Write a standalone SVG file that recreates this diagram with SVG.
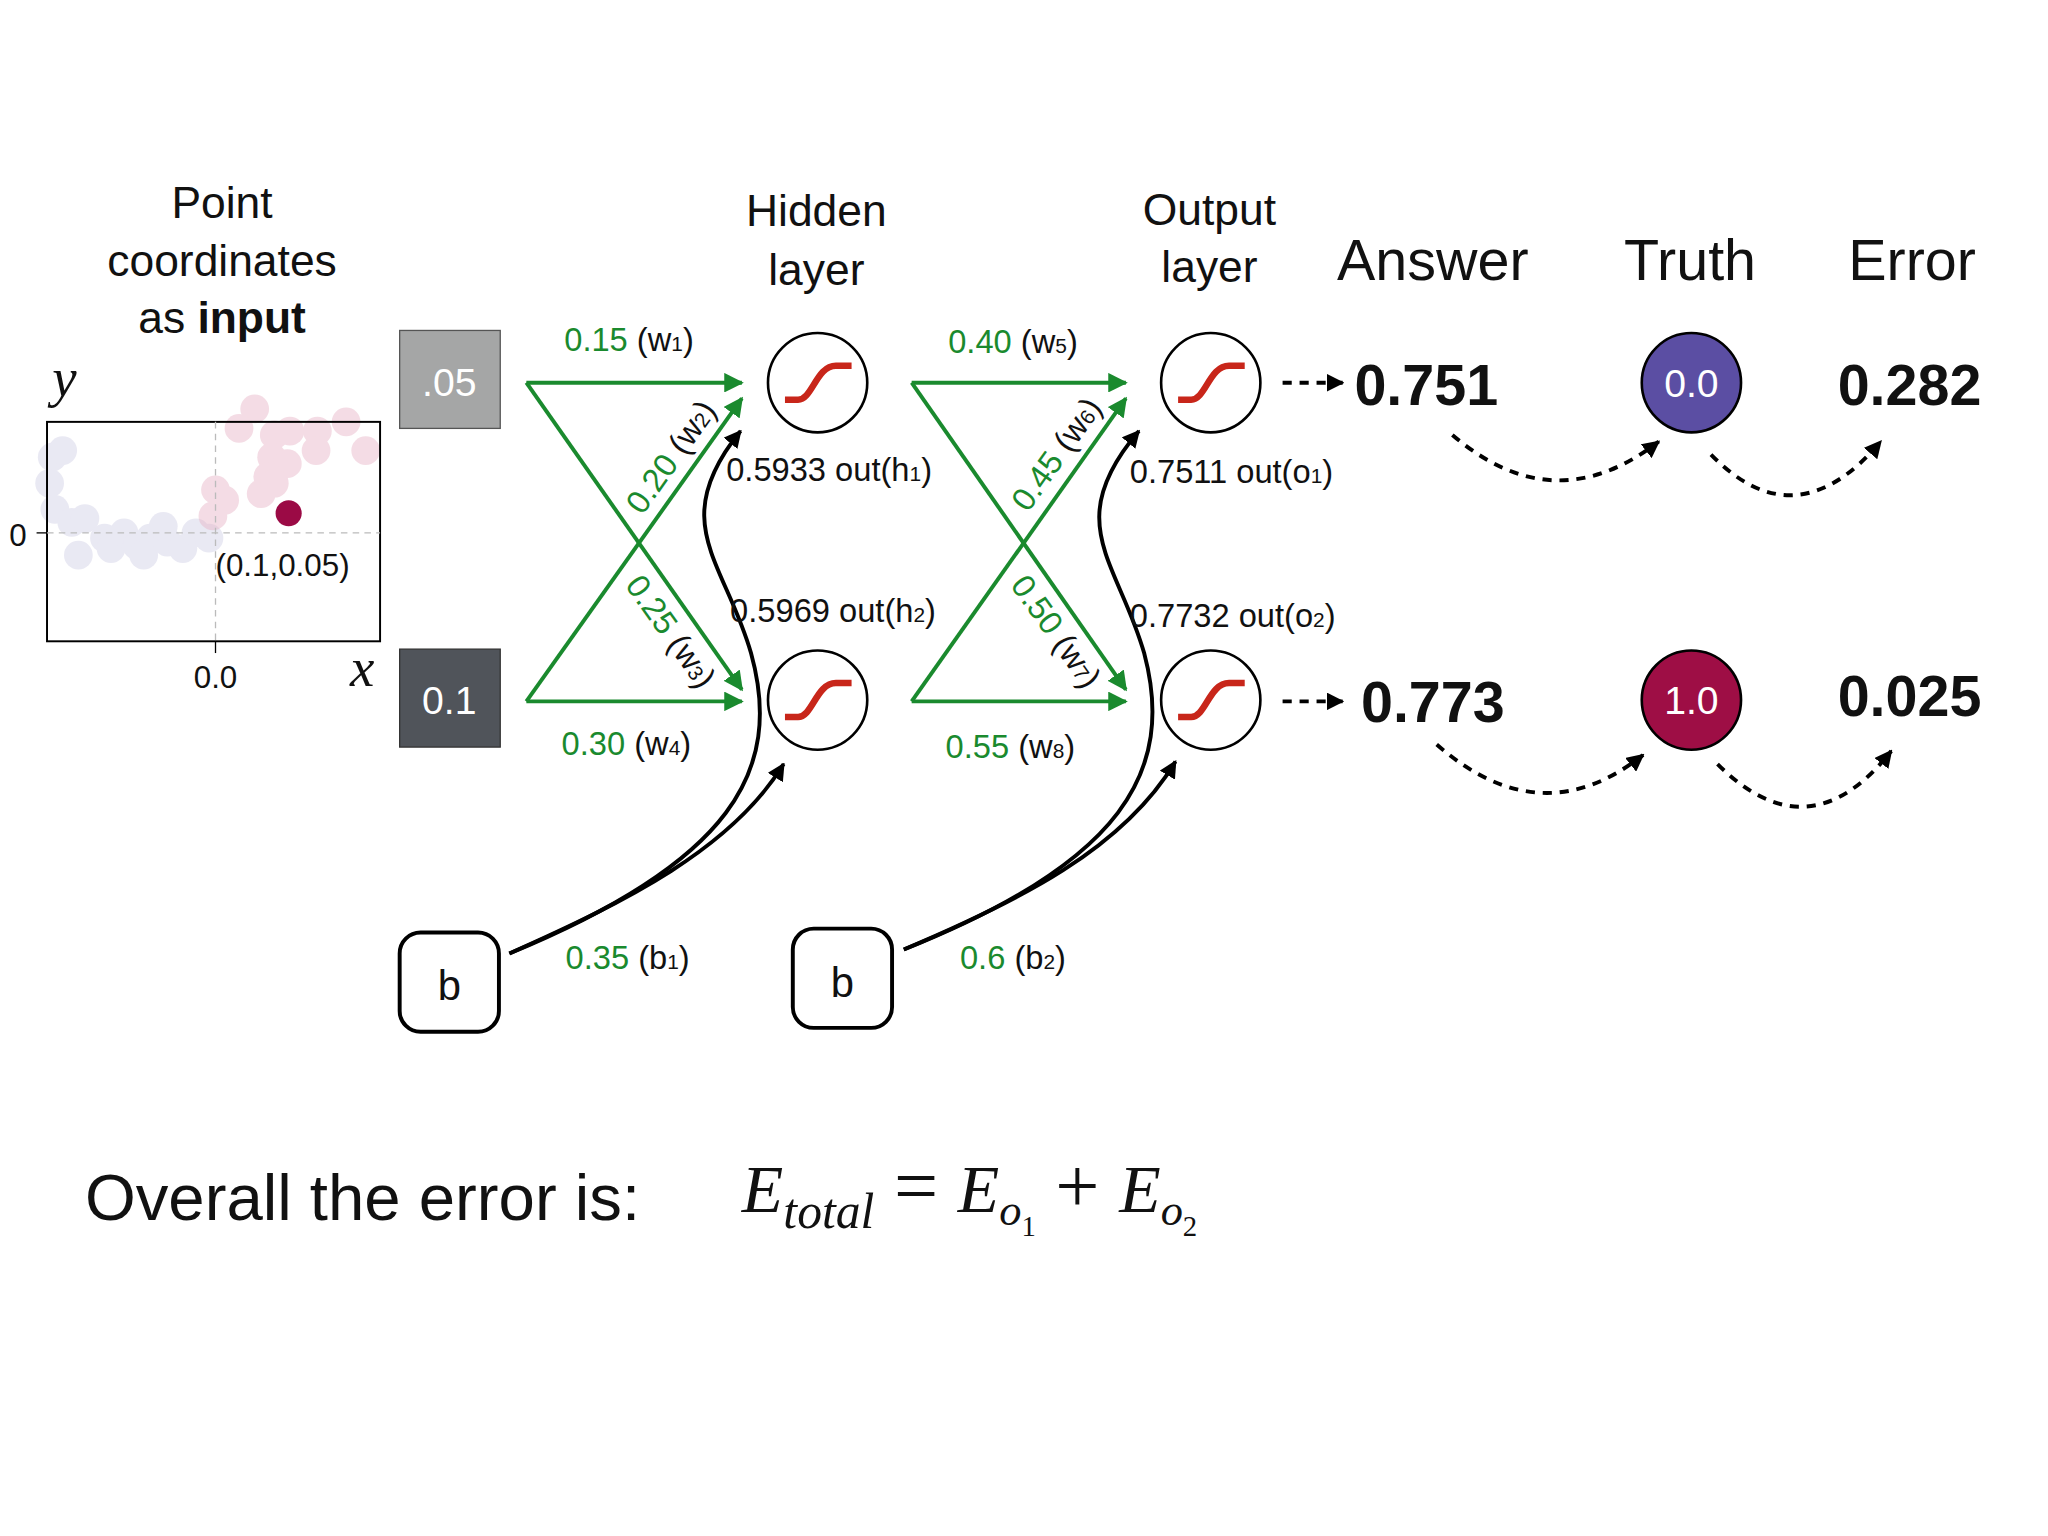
<svg xmlns="http://www.w3.org/2000/svg" width="2048" height="1536" viewBox="0 0 2048 1536">
<defs>
<style>
text{font-family:"Liberation Sans",Arial,sans-serif;fill:#111}
.g{fill:#1a8a2e}
.t24{font-size:25px}
.hd{font-size:34px;text-anchor:middle}
.hb{font-size:44px;text-anchor:middle}
.big{font-size:44px;font-weight:bold}
.gl{stroke:#1a8a2e;stroke-width:3;fill:none;marker-end:url(#ga)}
.bl{stroke:#000;stroke-width:3;fill:none;marker-end:url(#ba)}
.dl{stroke:#000;stroke-width:3;fill:none;stroke-dasharray:7 6;marker-end:url(#ba)}
.neu{fill:#fff;stroke:#000;stroke-width:2}
.sig{fill:none;stroke:#c8261a;stroke-width:5}
.ser{font-family:"Liberation Serif","Times New Roman",serif;font-style:italic}
.pb{fill:#d0cfe6;opacity:0.45}
.pr{fill:#e8b3c6;opacity:0.45}
</style>
<marker id="ga" viewBox="0 0 10 10" refX="9" refY="5" markerWidth="5" markerHeight="5" orient="auto"><path d="M0,0L10,5L0,10z" fill="#1a8a2e"/></marker>
<marker id="ba" viewBox="0 0 10 10" refX="9" refY="5" markerWidth="4.5" markerHeight="4.5" orient="auto"><path d="M0,0L10,5L0,10z" fill="#000"/></marker>
</defs>
<rect width="2048" height="1536" fill="#fff"/>
<g transform="scale(1.3061)">
<g id="title">
<text class="hd" x="170" y="167">Point</text>
<text class="hd" x="170" y="211">coordinates</text>
<text class="hd" x="170" y="255">as <tspan font-weight="bold">input</tspan></text>
<text class="hd" x="625" y="173">Hidden</text>
<text class="hd" x="625" y="218">layer</text>
<text class="hd" x="926" y="172">Output</text>
<text class="hd" x="926" y="216">layer</text>
<text class="hb" x="1097" y="214">Answer</text>
<text class="hb" x="1294" y="214">Truth</text>
<text class="hb" x="1464" y="214">Error</text>
</g>
<g id="plot">
<g class="pb">
<circle cx="40" cy="350" r="11"/><circle cx="48" cy="345" r="11"/><circle cx="38" cy="370" r="11"/><circle cx="42" cy="390" r="11"/><circle cx="55" cy="400" r="11"/><circle cx="65" cy="397" r="11"/><circle cx="80" cy="412" r="11"/><circle cx="60" cy="425" r="11"/><circle cx="85" cy="420" r="11"/><circle cx="95" cy="408" r="11"/><circle cx="105" cy="418" r="11"/><circle cx="115" cy="412" r="11"/><circle cx="110" cy="425" r="11"/><circle cx="128" cy="415" r="11"/><circle cx="140" cy="420" r="11"/><circle cx="150" cy="408" r="11"/><circle cx="160" cy="412" r="11"/><circle cx="125" cy="403" r="11"/>
</g>
<g class="pr">
<circle cx="165" cy="375" r="11"/><circle cx="172" cy="383" r="11"/><circle cx="163" cy="395" r="11"/><circle cx="195" cy="313" r="11"/><circle cx="183" cy="328" r="11"/><circle cx="210" cy="333" r="11"/><circle cx="222" cy="330" r="11"/><circle cx="243" cy="330" r="11"/><circle cx="265" cy="323" r="11"/><circle cx="280" cy="345" r="11"/><circle cx="208" cy="350" r="11"/><circle cx="220" cy="355" r="11"/><circle cx="242" cy="345" r="11"/><circle cx="205" cy="365" r="11"/><circle cx="200" cy="378" r="11"/><circle cx="210" cy="370" r="11"/>
</g>
<rect x="36" y="323" width="255" height="168" fill="none" stroke="#000" stroke-width="1.5"/>
<line x1="36" y1="408" x2="291" y2="408" stroke="#bbb" stroke-dasharray="5 4"/>
<line x1="165" y1="323" x2="165" y2="491" stroke="#bbb" stroke-dasharray="5 4"/>
<line x1="28" y1="408" x2="36" y2="408" stroke="#000"/>
<line x1="165" y1="491" x2="165" y2="500" stroke="#000"/>
<text x="7" y="418" font-size="24">0</text>
<text x="165" y="527" font-size="24" text-anchor="middle">0.0</text>
<text class="ser" x="40" y="303" font-size="42">y</text>
<text class="ser" x="268" y="525" font-size="42">x</text>
<circle cx="221" cy="393" r="10" fill="#9b0a45"/>
<text x="165" y="441" font-size="24">(0.1,0.05)</text>
</g>
<g id="in1"><rect x="306" y="253" width="77" height="75" fill="#a5a6a6" stroke="#555"/><text x="344" y="303" font-size="30" style="fill:#fff" text-anchor="middle">.05</text></g>
<g id="in2"><rect x="306" y="497" width="77" height="75" fill="#50545a" stroke="#333"/><text x="344" y="547" font-size="30" style="fill:#fff" text-anchor="middle">0.1</text></g>
<g id="b1"><rect x="306" y="714" width="76" height="76" rx="16" fill="#fff" stroke="#000" stroke-width="3"/><text x="344" y="766" font-size="32" text-anchor="middle">b</text></g>
<g id="b2"><rect x="607" y="711" width="76" height="76" rx="16" fill="#fff" stroke="#000" stroke-width="3"/><text x="645" y="763" font-size="32" text-anchor="middle">b</text></g>
<g id="connectors">
<path class="gl" d="M403,293H568"/>
<path class="gl" d="M403,293L568,528"/>
<path class="gl" d="M403,537L568,305"/>
<path class="gl" d="M403,537H568"/>
<path class="gl" d="M698,293H862"/>
<path class="gl" d="M698,293L862,528"/>
<path class="gl" d="M698,537L862,305"/>
<path class="gl" d="M698,537H862"/>
<path class="bl" d="M390,730C560,660 600,590 575,500C555,430 510,400 567,330"/>
<path class="bl" d="M390,730C480,690 560,650 600,585"/>
<path class="bl" d="M692,727C860,660 900,590 876,500C856,430 812,400 872,330"/>
<path class="bl" d="M692,727C780,690 860,650 900,583"/>
<path class="dl" d="M982,293H1028"/>
<path class="dl" d="M982,537H1028"/>
<path class="dl" d="M1112,333Q1190,400 1270,338"/>
<path class="dl" d="M1310,348Q1375,415 1440,338"/>
<path class="dl" d="M1100,570Q1180,640 1258,578"/>
<path class="dl" d="M1315,585Q1385,655 1448,575"/>
</g>
<g id="h1"><circle class="neu" cx="626" cy="293" r="38"/><path class="sig" d="M601,306H611C622,306 625,280 640,280H652"/></g>
<g id="h2"><circle class="neu" cx="626" cy="536" r="38"/><path class="sig" d="M601,549H611C622,549 625,523 640,523H652"/></g>
<g id="o1"><circle class="neu" cx="927" cy="293" r="38"/><path class="sig" d="M902,306H912C923,306 926,280 941,280H953"/></g>
<g id="o2"><circle class="neu" cx="927" cy="536" r="38"/><path class="sig" d="M902,549H912C923,549 926,523 941,523H953"/></g>
<g id="labels" class="t24">
<text x="432" y="269"><tspan class="g">0.15</tspan> (w<tspan font-size="16">1</tspan>)</text>
<text x="430" y="578"><tspan class="g">0.30</tspan> (w<tspan font-size="16">4</tspan>)</text>
<text x="726" y="270"><tspan class="g">0.40</tspan> (w<tspan font-size="16">5</tspan>)</text>
<text x="724" y="580"><tspan class="g">0.55</tspan> (w<tspan font-size="16">8</tspan>)</text>
<text transform="translate(492,395) rotate(-54.6)"><tspan class="g">0.20</tspan> (w<tspan font-size="16">2</tspan>)</text>
<text transform="translate(478,448) rotate(54.6)"><tspan class="g">0.25</tspan> (w<tspan font-size="16">3</tspan>)</text>
<text transform="translate(787,393) rotate(-54.6)"><tspan class="g">0.45</tspan> (w<tspan font-size="16">6</tspan>)</text>
<text transform="translate(773,448) rotate(54.6)"><tspan class="g">0.50</tspan> (w<tspan font-size="16">7</tspan>)</text>
<text x="433" y="742"><tspan class="g">0.35</tspan> (b<tspan font-size="16">1</tspan>)</text>
<text x="735" y="742"><tspan class="g">0.6</tspan> (b<tspan font-size="16">2</tspan>)</text>
<text x="556" y="368">0.5933 out(h<tspan font-size="16">1</tspan>)</text>
<text x="559" y="476">0.5969 out(h<tspan font-size="16">2</tspan>)</text>
<text x="865" y="370">0.7511 out(o<tspan font-size="16">1</tspan>)</text>
<text x="865" y="480">0.7732 out(o<tspan font-size="16">2</tspan>)</text>
</g>
<g id="answers">
<text class="big" x="1037" y="310">0.751</text>
<text class="big" x="1042" y="553">0.773</text>
<text class="big" x="1407" y="310">0.282</text>
<text class="big" x="1407" y="548">0.025</text>
</g>
<g id="t1"><circle cx="1295" cy="293" r="38" fill="#5b4ea3" stroke="#000" stroke-width="2"/><text x="1295" y="304" font-size="30" style="fill:#fff" text-anchor="middle">0.0</text></g>
<g id="t2"><circle cx="1295" cy="536" r="38" fill="#9e0e45" stroke="#000" stroke-width="2"/><text x="1295" y="547" font-size="30" style="fill:#fff" text-anchor="middle">1.0</text></g>
<g id="bottom">
<text x="65" y="934" font-size="50">Overall the error is:</text>
<text class="ser" x="568" y="928" font-size="52">E<tspan font-size="38" dy="12">total</tspan><tspan font-style="normal" font-size="60" dy="-12"> = </tspan>E<tspan font-size="34" dy="10">o</tspan><tspan font-size="22" font-style="normal" dy="8">1</tspan><tspan font-style="normal" font-size="60" dy="-18"> + </tspan>E<tspan font-size="34" dy="10">o</tspan><tspan font-size="22" font-style="normal" dy="8">2</tspan></text>
</g>
</g>
</svg>
